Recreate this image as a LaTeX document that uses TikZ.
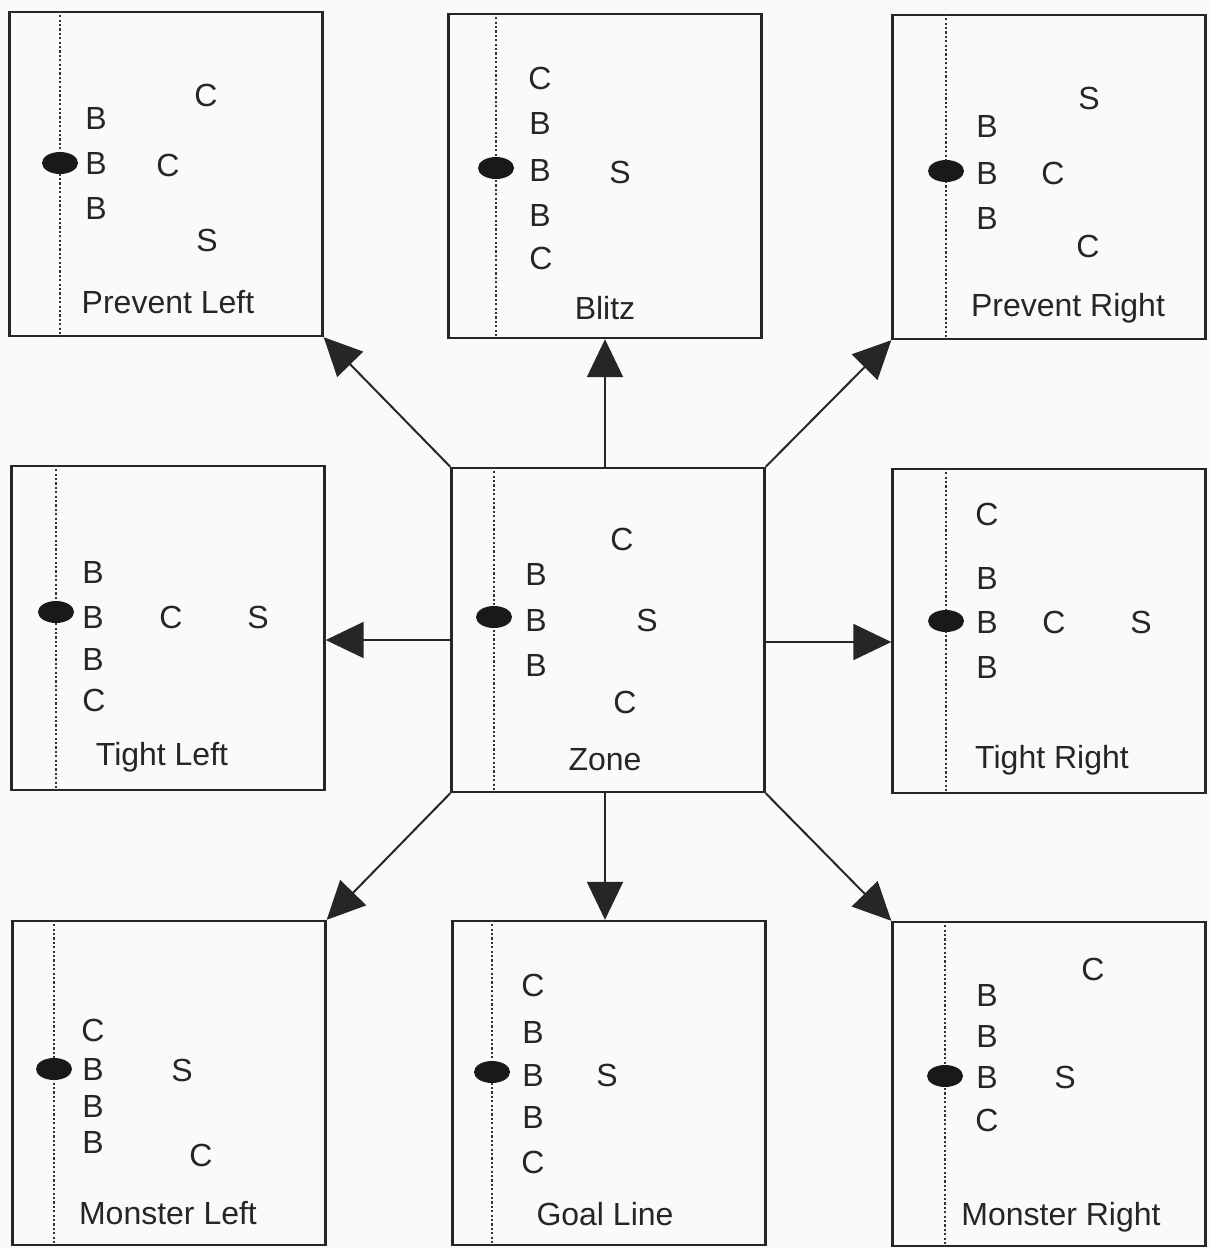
\documentclass[tikz,border=0pt]{standalone}
\usepackage{fontspec}
\setmainfont{Liberation Sans}
\usetikzlibrary{arrows.meta}

\tikzset{
  panel/.style={draw=black!85, line width=2.4pt, minimum width=313pt, minimum height=324pt, inner sep=0pt},
  man/.style={inner sep=0pt, text=black!85, font=\fontsize{32}{34}\selectfont},
  yardline/.style={black!80, line width=2.6pt, dash pattern=on 2.2pt off 2.2pt},
  push/.style={black!85, line width=2pt, -{Triangle[length=38pt,width=36pt]}}
}
% dotted line of scrimmage and the ball
\newcommand{\squad}[3]{%
  \draw[yardline] (#2,0 |- #1.north) -- (#2,0 |- #1.south);
  \fill[black!90] (#2,#3) ellipse [x radius=18pt, y radius=11pt];}

\begin{document}
\begin{tikzpicture}[x=1pt, y=-1pt]
  \useasboundingbox[fill=black!2] (0,0) rectangle (1210,1248);

  % the nine panels
  \node[panel] (pl) at (166,174) {};
  \node[panel] (bz) at (605,176) {};
  \node[panel] (pr) at (1049,177) {};
  \node[panel] (tl) at (168,628) {};
  \node[panel] (zn) at (608,630) {};
  \node[panel] (tr) at (1049,631) {};
  \node[panel] (ml) at (169,1083) {};
  \node[panel] (gl) at (609,1083) {};
  \node[panel] (mr) at (1049,1084) {};

  \squad{pl}{60}{163}
  \squad{bz}{496}{168}
  \squad{pr}{946}{171}
  \squad{tl}{56}{612}
  \squad{zn}{494}{617}
  \squad{tr}{946}{621}
  \squad{ml}{54}{1069}
  \squad{gl}{492}{1072}
  \squad{mr}{945}{1076}

  % players
  \foreach \t/\x/\y [count=\i] in {B/96/118, B/96/163, B/96/208, C/206/95, C/168/165, S/207/240}
    \node[man] (pl-\i) at (\x,\y) {\t};
  \foreach \t/\x/\y [count=\i] in {C/540/78, B/540/123, B/540/170, B/540/215, C/541/258, S/620/172}
    \node[man] (bz-\i) at (\x,\y) {\t};
  \foreach \t/\x/\y [count=\i] in {S/1089/98, B/987/126, B/987/173, B/987/218, C/1053/173, C/1088/246}
    \node[man] (pr-\i) at (\x,\y) {\t};
  \foreach \t/\x/\y [count=\i] in {B/93/572, B/93/617, B/93/659, C/94/700, C/171/617, S/258/617}
    \node[man] (tl-\i) at (\x,\y) {\t};
  \foreach \t/\x/\y [count=\i] in {C/622/539, B/536/574, B/536/620, B/536/665, S/647/620, C/625/702}
    \node[man] (zn-\i) at (\x,\y) {\t};
  \foreach \t/\x/\y [count=\i] in {C/987/514, B/987/578, B/987/622, B/987/667, C/1054/622, S/1141/622}
    \node[man] (tr-\i) at (\x,\y) {\t};
  \foreach \t/\x/\y [count=\i] in {C/93/1030, B/93/1069, B/93/1106, B/93/1142, S/182/1070, C/201/1155}
    \node[man] (ml-\i) at (\x,\y) {\t};
  \foreach \t/\x/\y [count=\i] in {C/533/985, B/533/1032, B/533/1075, B/533/1117, C/533/1162, S/607/1075}
    \node[man] (gl-\i) at (\x,\y) {\t};
  \foreach \t/\x/\y [count=\i] in {C/1093/969, B/987/995, B/987/1036, B/987/1077, C/987/1120, S/1065/1077}
    \node[man] (mr-\i) at (\x,\y) {\t};

  % names
  \node[man] (pl-name) at (168,302) {Prevent Left};
  \node[man] (bz-name) at (605,308) {Blitz};
  \node[man] (pr-name) at (1068,308) {Prevent Right};
  \node[man] (tl-name) at (162,757) {Tight Left};
  \node[man] (zn-name) at (605,760) {Zone};
  \node[man] (tr-name) at (1052,760) {Tight Right};
  \node[man] (ml-name) at (168,1213) {Monster Left};
  \node[man] (gl-name) at (605,1214) {Goal Line};
  \node[man] (mr-name) at (1061,1217) {Monster Right};

  % shifts out of the zone
  \draw[push] (zn.north west) -- (pl.south east);
  \draw[push] ([xshift=-3pt]zn.north) -- ([xshift=-3pt]zn.north |- bz.south);
  \draw[push] (zn.north east) -- (pr.south west);
  \draw[push] ([yshift=-10pt]zn.west) -- ([yshift=-10pt]zn.west -| tl.east);
  \draw[push] ([yshift=-12pt]zn.east) -- ([yshift=-12pt]zn.east -| tr.west);
  \draw[push] (zn.south west) -- (ml.north east);
  \draw[push] ([xshift=-3pt]zn.south) -- ([xshift=-3pt]zn.south |- gl.north);
  \draw[push] (zn.south east) -- (mr.north west);
\end{tikzpicture}
\end{document}
